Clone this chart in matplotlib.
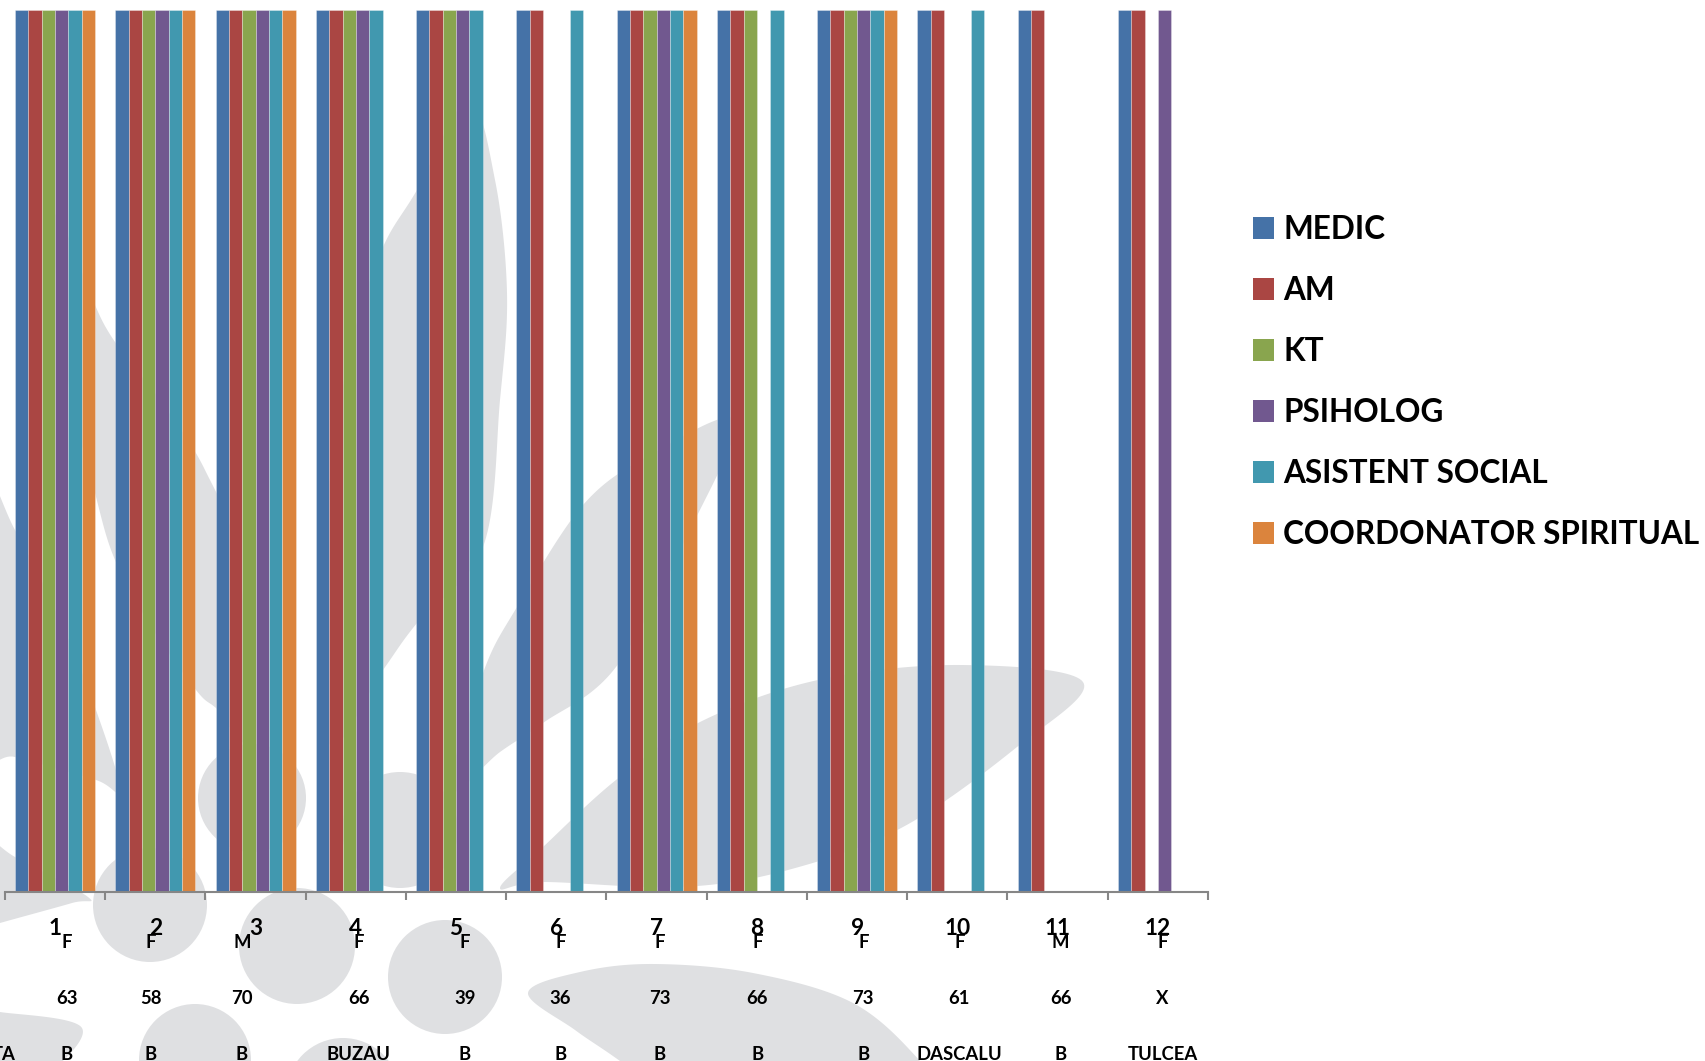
import matplotlib
matplotlib.use("Agg")
import matplotlib.pyplot as plt
import matplotlib.transforms as mtransforms
from matplotlib.patches import Polygon, Ellipse
import numpy as np

# ---- data -------------------------------------------------------------
case_numbers = ["1", "2", "3", "4", "5", "6", "7", "8", "9", "10", "11", "12"]
sex = ["F", "F", "M", "F", "F", "F", "F", "F", "F", "F", "M", "F"]
age = ["63", "58", "70", "66", "39", "36", "73", "66", "73", "61", "66", "X"]
location = ["B", "B", "B", "BUZAU", "B", "B", "B", "B", "B", "DASCALU", "B", "TULCEA"]

series_names = ["MEDIC", "AM", "KT", "PSIHOLOG", "ASISTENT SOCIAL",
                "COORDONATOR SPIRITUAL"]
medic = [1, 1, 1, 1, 1, 1, 1, 1, 1, 1, 1, 1]
am = [1, 1, 1, 1, 1, 1, 1, 1, 1, 1, 1, 1]
kt = [1, 1, 1, 1, 1, 0, 1, 1, 1, 0, 0, 0]
psiholog = [1, 1, 1, 1, 1, 0, 1, 0, 1, 0, 0, 1]
asistent_social = [1, 1, 1, 1, 1, 1, 1, 1, 1, 1, 0, 0]
coordonator_spiritual = [1, 1, 1, 0, 0, 0, 1, 0, 1, 0, 0, 0]
series_values = [medic, am, kt, psiholog, asistent_social, coordonator_spiritual]

colors = ["#4572A7", "#AA4643", "#89A54E", "#71588F", "#4198AF", "#DB843D"]

# ---- layout -----------------------------------------------------------
W, H = 1706, 1061
FONT = "Lato"
plt.rcParams["font.family"] = [FONT, "DejaVu Sans"]
plt.rcParams["font.weight"] = "bold"

fig = plt.figure(figsize=(W / 100, H / 100), dpi=100)
fig.patch.set_facecolor("white")


def px(x, y):
    return (x / W, 1 - y / H)


def smooth_closed(points, n=24):
    """Closed Catmull-Rom curve through the given pixel points."""
    p = np.asarray(points, float)
    m = len(p)
    out = []
    for i in range(m):
        p0, p1, p2, p3 = p[i - 1], p[i], p[(i + 1) % m], p[(i + 2) % m]
        for t in np.linspace(0, 1, n, endpoint=False):
            t2, t3 = t * t, t * t * t
            out.append(0.5 * ((2 * p1) + (-p0 + p2) * t
                              + (2 * p0 - 5 * p1 + 4 * p2 - p3) * t2
                              + (-p0 + 3 * p1 - 3 * p2 + p3) * t3))
    return [px(x, y) for x, y in out]


# faint logo watermark behind the plot
mark = "#dfe0e2"
petals = [
    [(468, 100), (495, 180), (507, 293), (500, 400), (483, 547), (417, 623),
     (383, 670), (330, 745), (322, 600), (333, 450), (355, 330), (383, 247),
     (417, 190)],
    [(450, 790), (483, 673), (517, 607), (583, 505), (650, 455), (735, 420),
     (690, 530), (616, 667), (543, 723), (500, 752)],
    [(500, 888), (543, 847), (616, 780), (700, 722), (818, 680), (960, 665),
     (1083, 682), (1017, 747), (903, 827), (788, 870), (681, 887), (543, 882)],
    [(528, 993), (580, 972), (653, 964), (753, 973), (853, 1003), (920, 1061),
     (960, 1120), (700, 1120), (620, 1061), (575, 1030)],
    [(55, 215), (105, 326), (160, 400), (205, 470), (238, 560), (248, 735),
     (216, 708), (196, 690), (150, 625), (115, 560), (95, 493), (68, 380)],
    [(120, 790), (96, 710), (60, 620), (15, 530), (-30, 460), (-30, 745),
     (15, 757), (96, 780)],
    [(88, 897), (15, 857), (-30, 832), (-30, 932), (0, 923), (72, 903)],
    [(82, 1028), (0, 1012), (-30, 1010), (-30, 1110), (40, 1080)],
]
for pts in petals:
    fig.patches.append(Polygon(smooth_closed(pts), closed=True, facecolor=mark,
                               edgecolor="none", transform=fig.transFigure,
                               zorder=-2))
dots = [(150, 905, 57), (297, 946, 58), (445, 977, 57), (195, 1060, 56),
        (343, 1095, 57), (400, 830, 58), (252, 798, 54)]
for cx, cy, r in dots:
    fig.patches.append(Ellipse(px(cx, cy), 2 * r / W, 2 * r / H,
                               facecolor=mark, edgecolor="none",
                               transform=fig.transFigure, zorder=-2))

# ---- bars -------------------------------------------------------------
ax = fig.add_axes([5 / W, 1 - 892 / H, (1208 - 5) / W, (892 - 10) / H])
ax.set_facecolor("none")
n_cat = len(case_numbers)
n_ser = len(series_names)
x = np.arange(n_cat)
bar_w = 0.8 / n_ser
for j, (name, vals, col) in enumerate(zip(series_names, series_values, colors)):
    ax.bar(x + (j - (n_ser - 1) / 2) * bar_w, vals, width=bar_w, color=col,
           edgecolor=(1, 1, 1, 0.35), linewidth=0.6, label=name, zorder=2)

ax.set_xlim(-0.5, n_cat - 0.5)
ax.set_ylim(0, 1)
for s in ("top", "right", "left"):
    ax.spines[s].set_visible(False)
ax.spines["bottom"].set_color("#868686")
ax.spines["bottom"].set_linewidth(1.5)
ax.set_yticks([])
ax.set_xticks(np.arange(-0.5, n_cat, 1.0))
ax.set_xticklabels([])
ax.tick_params(axis="x", direction="out", length=6, width=1.5, color="#868686")

# ---- multi-level category labels --------------------------------------
blend = mtransforms.blended_transform_factory(ax.transData, fig.transFigure)
sub_shift = [0.119, -0.044, -0.136, 0.031, 0.089, 0.041, 0.029, 0.004, 0.062,
             0.019, 0.031, 0.046]
SUB = 13.3
for i in range(n_cat):
    ax.text(x[i], 1 - 935 / H, case_numbers[i], transform=blend, ha="center",
            va="baseline", fontsize=16.3, fontweight="bold", color="black")
    xs = x[i] + sub_shift[i]
    ax.text(xs, 1 - 948.5 / H, sex[i], transform=blend, ha="center",
            va="baseline", fontsize=SUB, fontweight="bold")
    ax.text(xs, 1 - 1004 / H, age[i], transform=blend, ha="center",
            va="baseline", fontsize=SUB, fontweight="bold")
    ax.text(xs, 1 - 1060 / H, location[i], transform=blend, ha="center",
            va="baseline", fontsize=SUB, fontweight="bold")
ax.text(-0.39, 1 - 1060 / H, "TA", transform=blend, ha="right",
        va="baseline", fontsize=SUB, fontweight="bold")

# ---- legend -----------------------------------------------------------
leg = fig.legend(loc="upper left", bbox_to_anchor=px(1253, 215), frameon=False,
                 prop={"family": [FONT, "DejaVu Sans"], "weight": "bold",
                       "size": 22.7},
                 handlelength=0.66, handleheight=0.66, handletextpad=0.3,
                 labelspacing=1.015, borderaxespad=0, borderpad=0)
for h in leg.legend_handles:
    h.set_edgecolor("none")

fig.savefig("out.png", dpi=100, facecolor="white")
